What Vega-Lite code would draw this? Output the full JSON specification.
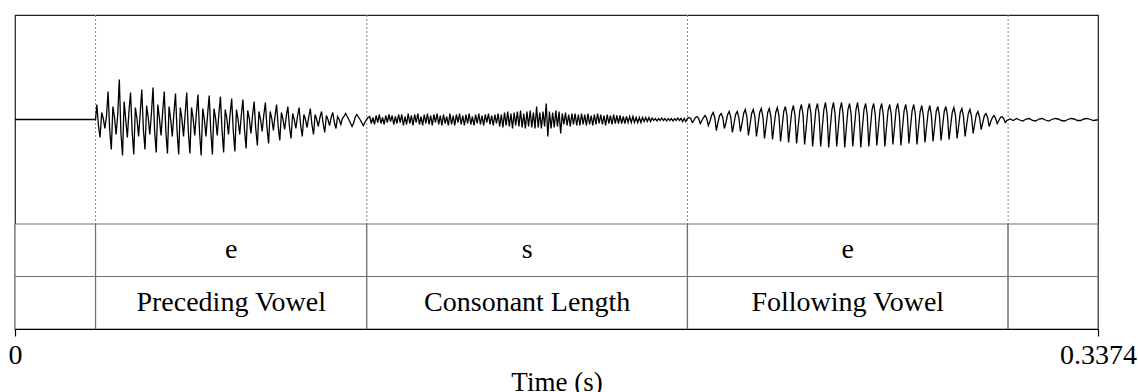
{
"$schema": "https://vega.github.io/schema/vega-lite/v6.json",
"width": 1083, "height": 314,
"autosize": {"type": "none"},
"padding": {"left": 15, "top": 15, "right": 40, "bottom": 63},
"background": "white",
"config": {"view": {"stroke": "#222", "strokeWidth": 1.2}, "font": "Liberation Serif"},
"datasets": {
"tiers": [
{"tier":"phone","start":0,"end":0.0251,"label":""},
{"tier":"phone","start":0.0251,"end":0.1096,"label":"e"},
{"tier":"phone","start":0.1096,"end":0.2095,"label":"s"},
{"tier":"phone","start":0.2095,"end":0.3094,"label":"e"},
{"tier":"phone","start":0.3094,"end":0.3374,"label":""},
{"tier":"label","start":0,"end":0.0251,"label":""},
{"tier":"label","start":0.0251,"end":0.1096,"label":"Preceding Vowel"},
{"tier":"label","start":0.1096,"end":0.2095,"label":"Consonant Length"},
{"tier":"label","start":0.2095,"end":0.3094,"label":"Following Vowel"},
{"tier":"label","start":0.3094,"end":0.3374,"label":""}
],
"bounds": [{"time":0.0251},{"time":0.1096},{"time":0.2095},{"time":0.3094}],
"wave": [
{"t":0,"a":0},{"t":0.0251,"a":0},
{"t":0.0255,"a":0.15},{"t":0.0260,"a":-0.06},{"t":0.0265,"a":-0.18},{"t":0.0270,"a":0.07},{"t":0.0275,"a":0.01},{"t":0.0280,"a":-0.09},{"t":0.0285,"a":0.03},
{"t":0.0290,"a":0.28},{"t":0.0295,"a":-0.10},{"t":0.0300,"a":-0.30},{"t":0.0305,"a":0.13},{"t":0.0310,"a":0.02},{"t":0.0315,"a":-0.15},{"t":0.0320,"a":0.05},
{"t":0.0325,"a":0.40},{"t":0.0330,"a":-0.13},{"t":0.0335,"a":-0.36},{"t":0.0340,"a":0.18},{"t":0.0345,"a":0.00},{"t":0.0350,"a":-0.18},{"t":0.0355,"a":0.08},
{"t":0.0360,"a":0.27},{"t":0.0365,"a":-0.12},{"t":0.0370,"a":-0.35},{"t":0.0375,"a":0.12},{"t":0.0380,"a":0.01},{"t":0.0385,"a":-0.17},{"t":0.0390,"a":0.06},
{"t":0.0395,"a":0.30},{"t":0.0400,"a":-0.10},{"t":0.0405,"a":-0.30},{"t":0.0410,"a":0.14},{"t":0.0415,"a":0.02},{"t":0.0420,"a":-0.15},{"t":0.0425,"a":0.06},
{"t":0.0430,"a":0.32},{"t":0.0435,"a":-0.12},{"t":0.0440,"a":-0.33},{"t":0.0445,"a":0.15},{"t":0.0450,"a":0.01},{"t":0.0455,"a":-0.16},{"t":0.0460,"a":0.07},
{"t":0.0465,"a":0.28},{"t":0.0470,"a":-0.12},{"t":0.0475,"a":-0.34},{"t":0.0480,"a":0.13},{"t":0.0485,"a":0.00},{"t":0.0490,"a":-0.17},{"t":0.0495,"a":0.06},
{"t":0.0500,"a":0.26},{"t":0.0505,"a":-0.12},{"t":0.0510,"a":-0.35},{"t":0.0515,"a":0.12},{"t":0.0520,"a":0.01},{"t":0.0525,"a":-0.17},{"t":0.0530,"a":0.05},
{"t":0.0535,"a":0.27},{"t":0.0540,"a":-0.12},{"t":0.0545,"a":-0.34},{"t":0.0550,"a":0.12},{"t":0.0555,"a":0.01},{"t":0.0560,"a":-0.16},{"t":0.0565,"a":0.06},
{"t":0.0570,"a":0.25},{"t":0.0575,"a":-0.13},{"t":0.0580,"a":-0.36},{"t":0.0585,"a":0.11},{"t":0.0590,"a":0.00},{"t":0.0595,"a":-0.17},{"t":0.0600,"a":0.05},
{"t":0.0605,"a":0.24},{"t":0.0610,"a":-0.12},{"t":0.0615,"a":-0.35},{"t":0.0620,"a":0.11},{"t":0.0625,"a":0.01},{"t":0.0630,"a":-0.16},{"t":0.0635,"a":0.05},
{"t":0.0640,"a":0.23},{"t":0.0645,"a":-0.11},{"t":0.0650,"a":-0.33},{"t":0.0655,"a":0.10},{"t":0.0660,"a":0.01},{"t":0.0665,"a":-0.15},{"t":0.0670,"a":0.05},
{"t":0.0675,"a":0.21},{"t":0.0680,"a":-0.11},{"t":0.0685,"a":-0.32},{"t":0.0690,"a":0.10},{"t":0.0695,"a":0.00},{"t":0.0700,"a":-0.15},{"t":0.0705,"a":0.04},
{"t":0.0710,"a":0.20},{"t":0.0715,"a":-0.10},{"t":0.0720,"a":-0.29},{"t":0.0725,"a":0.09},{"t":0.0730,"a":0.01},{"t":0.0735,"a":-0.14},{"t":0.0740,"a":0.04},
{"t":0.0745,"a":0.18},{"t":0.0750,"a":-0.09},{"t":0.0755,"a":-0.26},{"t":0.0760,"a":0.08},{"t":0.0765,"a":0.00},{"t":0.0770,"a":-0.12},{"t":0.0775,"a":0.04},
{"t":0.0780,"a":0.17},{"t":0.0785,"a":-0.08},{"t":0.0790,"a":-0.24},{"t":0.0795,"a":0.08},{"t":0.0800,"a":0.01},{"t":0.0805,"a":-0.11},{"t":0.0810,"a":0.03},
{"t":0.0815,"a":0.15},{"t":0.0820,"a":-0.07},{"t":0.0825,"a":-0.21},{"t":0.0830,"a":0.07},{"t":0.0835,"a":0.00},{"t":0.0840,"a":-0.10},{"t":0.0845,"a":0.03},
{"t":0.0850,"a":0.13},{"t":0.0855,"a":-0.07},{"t":0.0860,"a":-0.19},{"t":0.0865,"a":0.06},{"t":0.0870,"a":0.00},{"t":0.0875,"a":-0.09},{"t":0.0880,"a":0.03},
{"t":0.0885,"a":0.12},{"t":0.0890,"a":-0.06},{"t":0.0895,"a":-0.17},{"t":0.0900,"a":0.05},{"t":0.0905,"a":0.00},{"t":0.0910,"a":-0.08},{"t":0.0915,"a":0.02},
{"t":0.0920,"a":0.11},{"t":0.0925,"a":-0.05},{"t":0.0930,"a":-0.15},{"t":0.0935,"a":0.05},{"t":0.0940,"a":0.00},{"t":0.0945,"a":-0.07},{"t":0.0950,"a":0.02},
{"t":0.0955,"a":0.08},{"t":0.0960,"a":-0.04},{"t":0.0965,"a":-0.13},{"t":0.0970,"a":0.04},{"t":0.0975,"a":0.00},{"t":0.0980,"a":-0.06},{"t":0.0985,"a":0.02},
{"t":0.0990,"a":0.07},{"t":0.0995,"a":-0.03},{"t":0.1000,"a":-0.09},{"t":0.1005,"a":0.03},{"t":0.1010,"a":0.00},{"t":0.1015,"a":-0.05},{"t":0.1020,"a":0.01},
{"t":0.1025,"a":0.03},{"t":0.1030,"a":0.06},{"t":0.1035,"a":0.03},{"t":0.1040,"a":0.00},{"t":0.1045,"a":-0.035},{"t":0.1050,"a":-0.07},{"t":0.1055,"a":-0.035},
{"t":0.1060,"a":0.025},{"t":0.1065,"a":0.05},{"t":0.1070,"a":0.025},{"t":0.1075,"a":0.00},{"t":0.1080,"a":-0.03},{"t":0.1085,"a":-0.06},{"t":0.1090,"a":-0.03},
{"t":0.1095,"a":0.0},{"t":0.1100,"a":0.02},
{"t":0.1105,"a":0.03},{"t":0.1110,"a":-0.04},{"t":0.1115,"a":0.02},{"t":0.1120,"a":-0.05},{"t":0.1125,"a":0.04},
{"t":0.1130,"a":-0.03},{"t":0.1135,"a":0.05},{"t":0.1140,"a":-0.04},{"t":0.1145,"a":0.02},{"t":0.1150,"a":-0.05},
{"t":0.1155,"a":0.04},{"t":0.1160,"a":-0.03},{"t":0.1165,"a":0.05},{"t":0.1170,"a":-0.02},{"t":0.1175,"a":0.04},
{"t":0.1180,"a":-0.05},{"t":0.1185,"a":0.03},{"t":0.1190,"a":-0.04},{"t":0.1195,"a":0.05},{"t":0.1200,"a":-0.03},
{"t":0.1205,"a":0.05},{"t":0.1210,"a":-0.06},{"t":0.1215,"a":0.03},{"t":0.1220,"a":-0.05},{"t":0.1225,"a":0.06},
{"t":0.1230,"a":-0.04},{"t":0.1235,"a":0.04},{"t":0.1240,"a":-0.06},{"t":0.1245,"a":0.05},{"t":0.1250,"a":-0.03},
{"t":0.1255,"a":0.06},{"t":0.1260,"a":-0.05},{"t":0.1265,"a":0.03},{"t":0.1270,"a":-0.06},{"t":0.1275,"a":0.05},
{"t":0.1280,"a":-0.04},{"t":0.1285,"a":0.06},{"t":0.1290,"a":-0.05},{"t":0.1295,"a":0.04},{"t":0.1300,"a":-0.06},
{"t":0.1305,"a":0.05},{"t":0.1310,"a":-0.03},{"t":0.1315,"a":0.06},{"t":0.1320,"a":-0.05},{"t":0.1325,"a":0.04},
{"t":0.1330,"a":-0.06},{"t":0.1335,"a":0.05},{"t":0.1340,"a":-0.04},{"t":0.1345,"a":0.03},{"t":0.1350,"a":-0.06},
{"t":0.1355,"a":0.06},{"t":0.1360,"a":-0.05},{"t":0.1365,"a":0.04},{"t":0.1370,"a":-0.06},{"t":0.1375,"a":0.05},
{"t":0.1380,"a":-0.03},{"t":0.1385,"a":0.06},{"t":0.1390,"a":-0.05},{"t":0.1395,"a":0.04},{"t":0.1400,"a":-0.06},
{"t":0.1405,"a":0.05},{"t":0.1410,"a":-0.04},{"t":0.1415,"a":0.06},{"t":0.1420,"a":-0.05},{"t":0.1425,"a":0.03},
{"t":0.1430,"a":-0.06},{"t":0.1435,"a":0.05},{"t":0.1440,"a":-0.04},{"t":0.1445,"a":0.06},{"t":0.1450,"a":-0.05},
{"t":0.1455,"a":0.04},{"t":0.1460,"a":-0.06},{"t":0.1465,"a":0.05},{"t":0.1470,"a":-0.03},{"t":0.1475,"a":0.06},
{"t":0.1480,"a":-0.05},{"t":0.1485,"a":0.04},{"t":0.1490,"a":-0.06},{"t":0.1495,"a":0.05},{"t":0.1500,"a":-0.04},
{"t":0.1505,"a":0.06},{"t":0.1510,"a":-0.07},{"t":0.1515,"a":0.05},{"t":0.1520,"a":-0.08},{"t":0.1525,"a":0.07},
{"t":0.1530,"a":-0.06},{"t":0.1535,"a":0.08},{"t":0.1540,"a":-0.07},{"t":0.1545,"a":0.06},{"t":0.1550,"a":-0.09},
{"t":0.1555,"a":0.07},{"t":0.1560,"a":-0.06},{"t":0.1565,"a":0.08},{"t":0.1570,"a":-0.07},{"t":0.1575,"a":0.09},
{"t":0.1580,"a":-0.08},{"t":0.1585,"a":0.06},{"t":0.1590,"a":-0.09},{"t":0.1595,"a":0.08},{"t":0.1600,"a":-0.07},
{"t":0.1605,"a":0.09},{"t":0.1610,"a":-0.08},{"t":0.1615,"a":0.07},{"t":0.1620,"a":-0.09},{"t":0.1625,"a":0.13},
{"t":0.1630,"a":-0.08},{"t":0.1635,"a":0.07},{"t":0.1640,"a":-0.09},{"t":0.1645,"a":0.08},{"t":0.1650,"a":-0.07},
{"t":0.1655,"a":0.16},{"t":0.1660,"a":-0.17},{"t":0.1665,"a":0.08},{"t":0.1670,"a":-0.09},{"t":0.1675,"a":0.07},
{"t":0.1680,"a":-0.08},{"t":0.1685,"a":0.09},{"t":0.1690,"a":-0.07},{"t":0.1695,"a":0.08},{"t":0.1700,"a":-0.14},
{"t":0.1705,"a":0.06},{"t":0.1710,"a":-0.05},{"t":0.1715,"a":0.07},{"t":0.1720,"a":-0.06},{"t":0.1725,"a":0.05},
{"t":0.1730,"a":-0.07},{"t":0.1735,"a":0.06},{"t":0.1740,"a":-0.05},{"t":0.1745,"a":0.06},{"t":0.1750,"a":-0.06},
{"t":0.1755,"a":0.05},{"t":0.1760,"a":-0.06},{"t":0.1765,"a":0.06},{"t":0.1770,"a":-0.05},{"t":0.1775,"a":0.05},
{"t":0.1780,"a":-0.06},{"t":0.1785,"a":0.06},{"t":0.1790,"a":-0.05},{"t":0.1795,"a":0.04},{"t":0.1800,"a":-0.06},
{"t":0.1805,"a":0.05},{"t":0.1810,"a":-0.05},{"t":0.1815,"a":0.06},{"t":0.1820,"a":-0.04},{"t":0.1825,"a":0.05},
{"t":0.1830,"a":-0.05},{"t":0.1835,"a":0.04},{"t":0.1840,"a":-0.06},{"t":0.1845,"a":0.05},{"t":0.1850,"a":-0.04},
{"t":0.1855,"a":0.04},{"t":0.1860,"a":-0.05},{"t":0.1865,"a":0.05},{"t":0.1870,"a":-0.04},{"t":0.1875,"a":0.04},
{"t":0.1880,"a":-0.04},
{"t":0.1885,"a":0.04},{"t":0.1890,"a":-0.04},{"t":0.1895,"a":0.03},{"t":0.1900,"a":-0.04},{"t":0.1905,"a":0.03},
{"t":0.1910,"a":-0.03},{"t":0.1915,"a":0.03},{"t":0.1920,"a":-0.03},{"t":0.1925,"a":0.03},{"t":0.1930,"a":-0.03},
{"t":0.1935,"a":0.02},{"t":0.1940,"a":-0.03},{"t":0.1945,"a":0.02},{"t":0.1950,"a":-0.03},{"t":0.1955,"a":0.02},
{"t":0.1960,"a":-0.02},{"t":0.1965,"a":0.02},{"t":0.1970,"a":-0.02},{"t":0.1975,"a":0.02},{"t":0.1980,"a":-0.02},
{"t":0.1985,"a":0.015},{"t":0.1990,"a":-0.01},{"t":0.1995,"a":0.01},{"t":0.2000,"a":-0.015},{"t":0.2005,"a":0.01},
{"t":0.2010,"a":-0.01},{"t":0.2015,"a":0.015},{"t":0.2020,"a":-0.01},{"t":0.2025,"a":0.01},{"t":0.2030,"a":-0.015},
{"t":0.2035,"a":0.01},{"t":0.2040,"a":-0.01},{"t":0.2045,"a":0.01},{"t":0.2050,"a":-0.015},{"t":0.2055,"a":0.01},
{"t":0.2060,"a":-0.01},{"t":0.2065,"a":0.015},{"t":0.2070,"a":-0.01},{"t":0.2075,"a":0.01},{"t":0.2080,"a":-0.02},
{"t":0.2085,"a":0.01},{"t":0.2090,"a":-0.02},
{"t":0.2095,"a":0.01},{"t":0.2100,"a":0.02},{"t":0.2105,"a":0.01},{"t":0.2110,"a":-0.03},{"t":0.2115,"a":-0.01},
{"t":0.2120,"a":0.02},{"t":0.2125,"a":0.03},{"t":0.2130,"a":0.01},{"t":0.2135,"a":-0.04},{"t":0.2140,"a":-0.01},
{"t":0.2145,"a":0.02},{"t":0.2150,"a":0.04},{"t":0.2155,"a":0.01},{"t":0.2160,"a":-0.06},{"t":0.2165,"a":-0.02},
{"t":0.2170,"a":0.04},{"t":0.2175,"a":0.07},{"t":0.2180,"a":0.02},{"t":0.2185,"a":-0.11},{"t":0.2190,"a":-0.03},
{"t":0.2195,"a":0.04},{"t":0.2200,"a":0.06},{"t":0.2205,"a":0.02},{"t":0.2210,"a":-0.09},{"t":0.2215,"a":-0.03},
{"t":0.2220,"a":0.05},{"t":0.2225,"a":0.08},{"t":0.2230,"a":0.02},{"t":0.2235,"a":-0.13},{"t":0.2240,"a":-0.04},
{"t":0.2245,"a":0.05},{"t":0.2250,"a":0.08},{"t":0.2255,"a":0.02},{"t":0.2260,"a":-0.12},{"t":0.2265,"a":-0.04},
{"t":0.2270,"a":0.06},{"t":0.2275,"a":0.10},{"t":0.2280,"a":0.03},{"t":0.2285,"a":-0.16},{"t":0.2290,"a":-0.05},
{"t":0.2295,"a":0.06},{"t":0.2300,"a":0.10},{"t":0.2305,"a":0.03},{"t":0.2310,"a":-0.17},{"t":0.2315,"a":-0.05},
{"t":0.2320,"a":0.07},{"t":0.2325,"a":0.11},{"t":0.2330,"a":0.03},{"t":0.2335,"a":-0.19},{"t":0.2340,"a":-0.06},
{"t":0.2345,"a":0.07},{"t":0.2350,"a":0.11},{"t":0.2355,"a":0.03},{"t":0.2360,"a":-0.20},{"t":0.2365,"a":-0.06},
{"t":0.2370,"a":0.07},{"t":0.2375,"a":0.12},{"t":0.2380,"a":0.04},{"t":0.2385,"a":-0.22},{"t":0.2390,"a":-0.07},
{"t":0.2395,"a":0.08},{"t":0.2400,"a":0.13},{"t":0.2405,"a":0.04},{"t":0.2410,"a":-0.23},{"t":0.2415,"a":-0.07},
{"t":0.2420,"a":0.08},{"t":0.2425,"a":0.14},{"t":0.2430,"a":0.04},{"t":0.2435,"a":-0.24},{"t":0.2440,"a":-0.07},
{"t":0.2445,"a":0.09},{"t":0.2450,"a":0.15},{"t":0.2455,"a":0.05},{"t":0.2460,"a":-0.25},{"t":0.2465,"a":-0.08},
{"t":0.2470,"a":0.10},{"t":0.2475,"a":0.16},{"t":0.2480,"a":0.05},{"t":0.2485,"a":-0.27},{"t":0.2490,"a":-0.08},
{"t":0.2495,"a":0.10},{"t":0.2500,"a":0.16},{"t":0.2505,"a":0.05},{"t":0.2510,"a":-0.27},{"t":0.2515,"a":-0.08},
{"t":0.2520,"a":0.10},{"t":0.2525,"a":0.17},{"t":0.2530,"a":0.05},{"t":0.2535,"a":-0.28},{"t":0.2540,"a":-0.08},
{"t":0.2545,"a":0.10},{"t":0.2550,"a":0.17},{"t":0.2555,"a":0.05},{"t":0.2560,"a":-0.27},{"t":0.2565,"a":-0.08},
{"t":0.2570,"a":0.10},{"t":0.2575,"a":0.17},{"t":0.2580,"a":0.05},{"t":0.2585,"a":-0.28},{"t":0.2590,"a":-0.08},
{"t":0.2595,"a":0.10},{"t":0.2600,"a":0.16},{"t":0.2605,"a":0.05},{"t":0.2610,"a":-0.27},{"t":0.2615,"a":-0.08},
{"t":0.2620,"a":0.10},{"t":0.2625,"a":0.17},{"t":0.2630,"a":0.05},{"t":0.2635,"a":-0.28},{"t":0.2640,"a":-0.08},
{"t":0.2645,"a":0.10},{"t":0.2650,"a":0.16},{"t":0.2655,"a":0.05},{"t":0.2660,"a":-0.27},{"t":0.2665,"a":-0.08},
{"t":0.2670,"a":0.10},{"t":0.2675,"a":0.16},{"t":0.2680,"a":0.05},{"t":0.2685,"a":-0.26},{"t":0.2690,"a":-0.08},
{"t":0.2695,"a":0.10},{"t":0.2700,"a":0.16},{"t":0.2705,"a":0.05},{"t":0.2710,"a":-0.27},{"t":0.2715,"a":-0.08},
{"t":0.2720,"a":0.09},{"t":0.2725,"a":0.15},{"t":0.2730,"a":0.05},{"t":0.2735,"a":-0.25},{"t":0.2740,"a":-0.08},
{"t":0.2745,"a":0.10},{"t":0.2750,"a":0.16},{"t":0.2755,"a":0.05},{"t":0.2760,"a":-0.26},{"t":0.2765,"a":-0.08},
{"t":0.2770,"a":0.09},{"t":0.2775,"a":0.15},{"t":0.2780,"a":0.05},{"t":0.2785,"a":-0.24},{"t":0.2790,"a":-0.07},
{"t":0.2795,"a":0.09},{"t":0.2800,"a":0.15},{"t":0.2805,"a":0.05},{"t":0.2810,"a":-0.25},{"t":0.2815,"a":-0.08},
{"t":0.2820,"a":0.08},{"t":0.2825,"a":0.14},{"t":0.2830,"a":0.04},{"t":0.2835,"a":-0.23},{"t":0.2840,"a":-0.07},
{"t":0.2845,"a":0.08},{"t":0.2850,"a":0.14},{"t":0.2855,"a":0.04},{"t":0.2860,"a":-0.22},{"t":0.2865,"a":-0.07},
{"t":0.2870,"a":0.08},{"t":0.2875,"a":0.13},{"t":0.2880,"a":0.04},{"t":0.2885,"a":-0.21},{"t":0.2890,"a":-0.06},
{"t":0.2895,"a":0.08},{"t":0.2900,"a":0.13},{"t":0.2905,"a":0.04},{"t":0.2910,"a":-0.20},{"t":0.2915,"a":-0.06},
{"t":0.2920,"a":0.07},{"t":0.2925,"a":0.12},{"t":0.2930,"a":0.04},{"t":0.2935,"a":-0.19},{"t":0.2940,"a":-0.06},
{"t":0.2945,"a":0.07},{"t":0.2950,"a":0.11},{"t":0.2955,"a":0.03},{"t":0.2960,"a":-0.17},{"t":0.2965,"a":-0.05},
{"t":0.2970,"a":0.06},{"t":0.2975,"a":0.10},{"t":0.2980,"a":0.03},{"t":0.2985,"a":-0.14},{"t":0.2990,"a":-0.04},
{"t":0.2995,"a":0.05},{"t":0.3000,"a":0.08},{"t":0.3005,"a":0.02},{"t":0.3010,"a":-0.10},{"t":0.3015,"a":-0.03},
{"t":0.3020,"a":0.04},{"t":0.3025,"a":0.06},{"t":0.3030,"a":0.02},{"t":0.3035,"a":-0.07},{"t":0.3040,"a":-0.02},
{"t":0.3045,"a":0.02},{"t":0.3050,"a":0.04},{"t":0.3055,"a":0.01},{"t":0.3060,"a":-0.04},{"t":0.3065,"a":-0.01},
{"t":0.3070,"a":0.02},{"t":0.3075,"a":0.03},{"t":0.3080,"a":0.01},{"t":0.3085,"a":-0.03},{"t":0.3090,"a":-0.01},
{"t":0.3100,"a":0.005},{"t":0.3110,"a":-0.01},{"t":0.3120,"a":0.01},{"t":0.3130,"a":-0.005},{"t":0.3140,"a":-0.015},
{"t":0.3150,"a":0.005},{"t":0.3160,"a":0.01},{"t":0.3170,"a":-0.01},{"t":0.3180,"a":-0.015},{"t":0.3190,"a":0.005},
{"t":0.3200,"a":0.01},{"t":0.3210,"a":-0.005},{"t":0.3220,"a":-0.015},{"t":0.3230,"a":0.0},{"t":0.3240,"a":0.01},
{"t":0.3250,"a":0.005},{"t":0.3260,"a":-0.01},{"t":0.3270,"a":-0.015},{"t":0.3280,"a":0.0},{"t":0.3290,"a":0.01},
{"t":0.3300,"a":0.005},{"t":0.3310,"a":-0.01},{"t":0.3320,"a":-0.01},{"t":0.3330,"a":0.005},{"t":0.3340,"a":0.01},
{"t":0.3350,"a":0.0},{"t":0.3360,"a":-0.01},{"t":0.3370,"a":-0.005},{"t":0.3374,"a":0}
]
},
"layer": [
{"layer": [
{"data": {"name": "tiers"},
 "mark": {"type": "rect", "fill": "white", "stroke": "#707070", "strokeWidth": 1.2},
 "encoding": {
  "x": {"field": "start", "type": "quantitative", "title": "Time (s)",
        "scale": {"domain": [0, 0.3374], "nice": false, "zero": false},
        "axis": {"values": [0, 0.3374], "format": ".4~f", "labelFlush": false, "labelOverlap": false, "labelBound": false,
                 "labelFont": "Liberation Serif", "labelFontSize": 28, "labelColor": "#000", "labelPadding": 5,
                 "tickSize": 7, "tickColor": "#000", "tickWidth": 1.2, "domainColor": "#000", "domainWidth": 1.2,
                 "grid": false, "titleFont": "Liberation Serif", "titleFontSize": 27, "titleFontWeight": "normal",
                 "titleColor": "#000", "titleY": 40, "titleBaseline": "top", "zindex": 1}},
  "x2": {"field": "end"},
  "y": {"field": "tier", "type": "nominal", "scale": {"domain": ["phone", "label"], "range": [209, 314], "paddingInner": 0, "paddingOuter": 0}, "axis": null}
 }},
{"data": {"name": "tiers"},
 "transform": [{"calculate": "(datum.start + datum.end) / 2", "as": "mid"}],
 "mark": {"type": "text", "font": "Liberation Serif", "fontSize": 28, "color": "#000", "baseline": "middle"},
 "encoding": {
  "x": {"field": "mid", "type": "quantitative", "title": "Time (s)"},
  "y": {"field": "tier", "type": "nominal", "scale": {"domain": ["phone", "label"], "range": [209, 314], "paddingInner": 0, "paddingOuter": 0}, "axis": null},
  "text": {"field": "label"}
 }}
]},
{"layer": [
{"data": {"name": "bounds"},
 "mark": {"type": "rule", "stroke": "#888", "strokeDash": [2, 2], "strokeWidth": 1},
 "encoding": {
  "x": {"field": "time", "type": "quantitative", "title": "Time (s)"},
  "y": {"datum": 1.045, "type": "quantitative", "scale": {"domain": [-1.045, 1.045], "range": [209, 0]}, "axis": null},
  "y2": {"datum": -1.045}
 }},
{"data": {"name": "wave"},
 "mark": {"type": "line", "stroke": "#000", "strokeWidth": 1.3},
 "encoding": {
  "x": {"field": "t", "type": "quantitative", "title": "Time (s)"},
  "y": {"field": "a", "type": "quantitative", "scale": {"domain": [-1.045, 1.045], "range": [209, 0]}, "axis": null}
 }}
]}
],
"resolve": {"scale": {"y": "independent"}}
}
